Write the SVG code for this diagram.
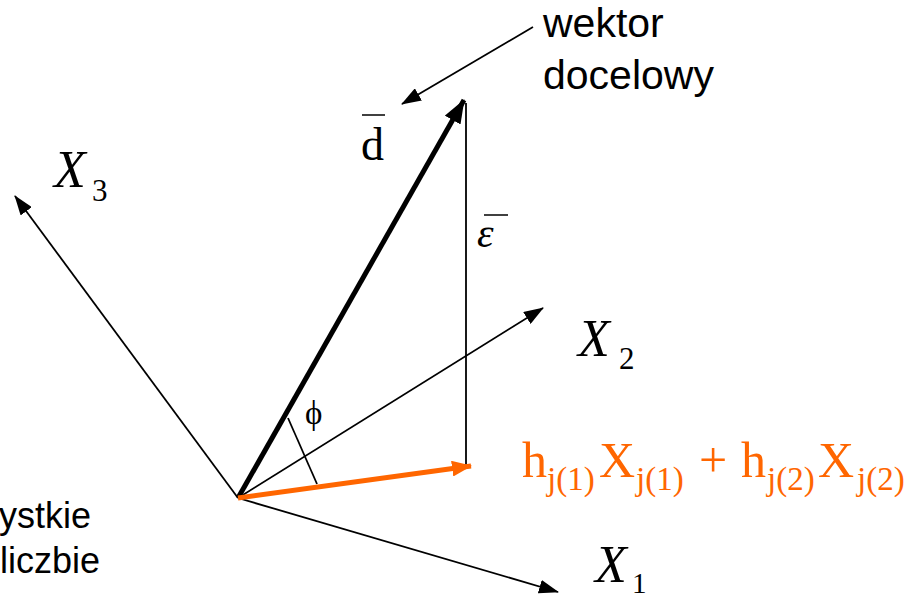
<svg xmlns="http://www.w3.org/2000/svg" width="912" height="596" viewBox="0 0 912 596">
<style>
.ax{stroke:#000;stroke-width:1.8;fill:none}
.sans{font-family:"Liberation Sans",Arial,sans-serif;fill:#000}
.serif{font-family:"Liberation Serif","Times New Roman",serif;fill:#000}
.org{fill:#FF6600}
.sub{font-size:33px}
</style>
<defs>
<marker id="ah" markerUnits="userSpaceOnUse" markerWidth="20" markerHeight="14" refX="19" refY="7" orient="auto"><path d="M0,0 L20,7 L0,14 Z" fill="#000"/></marker>
<marker id="ahB" markerUnits="userSpaceOnUse" markerWidth="24" markerHeight="18" refX="23" refY="9" orient="auto"><path d="M0,0 L24,9 L0,18 Z" fill="#000"/></marker>
<marker id="ahO" markerUnits="userSpaceOnUse" markerWidth="20" markerHeight="16" refX="19" refY="8" orient="auto"><path d="M0,0 L20,8 L0,16 Z" fill="#FF6600"/></marker>
</defs>
<rect width="912" height="596" fill="#fff"/>
<g id="connectors">
<line class="ax" x1="238" y1="498" x2="15" y2="196" marker-end="url(#ah)"/>
<line class="ax" x1="238" y1="498" x2="543" y2="308" marker-end="url(#ah)"/>
<line class="ax" x1="238" y1="498" x2="558" y2="592" marker-end="url(#ah)"/>
<line class="ax" x1="466" y1="103" x2="466" y2="466"/>
<line class="ax" x1="288" y1="418" x2="317" y2="484"/>
<line x1="238" y1="498" x2="464" y2="100" stroke="#000" stroke-width="5" marker-end="url(#ahB)"/>
<line x1="238" y1="498" x2="471" y2="466" stroke="#FF6600" stroke-width="5" marker-end="url(#ahO)"/>
<line class="ax" x1="533" y1="27" x2="402" y2="104" marker-end="url(#ah)"/>
</g>
<g id="label-wektor">
<text class="sans" x="543" y="37" font-size="41">wektor</text>
<text class="sans" x="543" y="89" font-size="41">docelowy</text>
</g>
<g id="label-left">
<text class="sans" x="91" y="528" font-size="36" text-anchor="end">ystkie</text>
<text class="sans" x="0" y="573" font-size="36">liczbie</text>
</g>
<g id="label-d">
<line x1="362" y1="115" x2="385" y2="115" stroke="#000" stroke-width="1.5"/>
<text class="serif" x="361" y="160" font-size="46">d</text>
</g>
<g id="label-eps">
<line x1="484" y1="215" x2="508" y2="215" stroke="#000" stroke-width="1.5"/>
<text class="serif" x="477" y="247" font-size="42" font-style="italic">ε</text>
</g>
<g id="label-phi">
<text class="serif" x="305" y="424" font-size="33">ϕ</text>
</g>
<g id="label-x3">
<text class="serif" x="54" y="187" font-size="52" font-style="italic">X</text>
<text class="serif" x="92" y="201" font-size="31">3</text>
</g>
<g id="label-x2">
<text class="serif" x="578" y="356" font-size="52" font-style="italic">X</text>
<text class="serif" x="619" y="369" font-size="31">2</text>
</g>
<g id="label-x1">
<text class="serif" x="595" y="582" font-size="52" font-style="italic">X</text>
<text class="serif" x="632" y="593" font-size="29">1</text>
</g>
<g id="label-formula">
<text class="serif org" y="477" font-size="50"><tspan x="522">h</tspan><tspan class="sub" x="547" y="490">j(1)</tspan><tspan x="599" y="477">X</tspan><tspan class="sub" x="636" y="490">j(1)</tspan><tspan x="699" y="477">+</tspan><tspan x="741">h</tspan><tspan class="sub" x="767" y="490">j(2)</tspan><tspan x="818" y="477">X</tspan><tspan class="sub" x="857" y="490">j(2)</tspan></text>
</g>
</svg>
